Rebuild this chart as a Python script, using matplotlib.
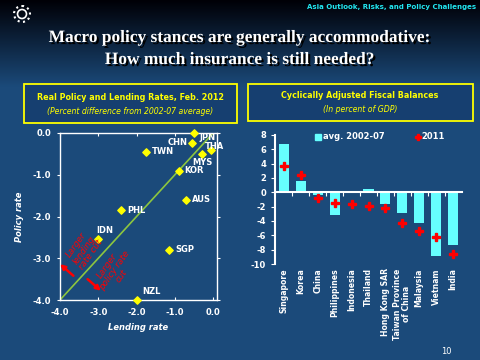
import numpy as np
import matplotlib.pyplot as plt
from matplotlib.patches import Rectangle, Circle
from matplotlib.lines import Line2D
import matplotlib.patheffects as pe

plt.rcParams["axes.unicode_minus"] = False

# scatter data: real policy vs lending rates (difference from 2002-07 avg)
countries = ["JPN", "CHN", "THA", "MYS", "TWN", "KOR", "AUS", "PHL", "IDN", "SGP", "NZL"]
lending = [-0.5, -0.55, -0.05, -0.3, -1.75, -0.9, -0.7, -2.4, -3.0, -1.15, -2.0]
policy = [0.0, -0.25, -0.4, -0.5, -0.45, -0.9, -1.6, -1.85, -2.55, -2.8, -4.0]
# label offsets in pixels (dx, dy, ha)
lab_off = {"JPN": (5, -4, "left"), "CHN": (-4, 1, "right"), "THA": (-6, 3, "left"),
           "MYS": (1, -9, "center"), "TWN": (6, 0, "left"), "KOR": (6, 0, "left"),
           "AUS": (6, 0, "left"), "PHL": (6, 0, "left"), "IDN": (-2, 9, "left"),
           "SGP": (6, 0, "left"), "NZL": (6, 8, "left")}

# bar data: cyclically adjusted fiscal balances
cats = ["Singapore", "Korea", "China", "Philippines", "Indonesia", "Thailand",
        "Hong Kong SAR", "Taiwan Province\nof China", "Malaysia", "Vietnam", "India"]
avg_0207 = [6.8, 1.6, -0.4, -3.2, 0.0, 0.4, -1.6, -2.9, -4.3, -8.9, -7.4]
y2011 = [3.7, 2.45, -0.8, -1.55, -1.65, -1.95, -2.2, -4.3, -5.45, -6.2, -8.6]

W, H = 481, 360
fig = plt.figure(figsize=(W / 100, H / 100), dpi=100)

# background gradient
bg = fig.add_axes([0, 0, 1, 1])
rows = np.linspace(0, 1, H)
t = np.clip(rows / 0.24, 0, 1)[:, None]
top = np.array([0, 0, 6]) / 255
bot = np.array([27, 74, 122]) / 255
img = (top + (bot - top) * t)[:, None, :].repeat(2, axis=1)
bg.imshow(img, aspect="auto", extent=[0, W, H, 0])
bg.set_xlim(0, W)
bg.set_ylim(H, 0)
bg.axis("off")

# logo
bg.add_patch(Circle((22, 14), 8, fill=False, ec="white", lw=1.5, ls=":"))
bg.add_patch(Circle((22, 14), 4.5, fill=False, ec="white", lw=1.2))

bg.text(476, 7, "Asia Outlook, Risks, and Policy Challenges", color="#22e6f0",
        fontsize=5, fontweight="bold", ha="right", va="center")
shadow = [pe.withSimplePatchShadow(offset=(1.5, -1.5), shadow_rgbFace="black", alpha=1)]
bg.text(240, 38, "Macro policy stances are generally accommodative:", color="white",
        fontsize=12.5, fontweight="bold", family="Liberation Serif", ha="center",
        va="center", path_effects=shadow)
bg.text(240, 60, "How much insurance is still needed?", color="white",
        fontsize=12.5, fontweight="bold", family="Liberation Serif", ha="center",
        va="center", path_effects=shadow)
bg.text(446, 351, "10", color="white", fontsize=6, ha="center", va="center")

# title boxes
bg.add_patch(Rectangle((24, 84), 213, 39, fc="#163f70", ec="#ffff00", lw=1.3))
bg.text(130.5, 97, "Real Policy and Lending Rates, Feb. 2012", color="#ffff00",
        fontsize=5.8, fontweight="bold", ha="center", va="center")
bg.text(130.5, 111, "(Percent difference from 2002-07 average)", color="#ffff00",
        fontsize=5.6, style="italic", ha="center", va="center")
bg.add_patch(Rectangle((248, 84), 225, 37, fc="#163f70", ec="#ffff00", lw=1.3))
bg.text(360, 96, "Cyclically Adjusted Fiscal Balances", color="#ffff00",
        fontsize=5.8, fontweight="bold", ha="center", va="center")
bg.text(360, 109, "(In percent of GDP)", color="#ffff00",
        fontsize=5.6, style="italic", ha="center", va="center")

# ---- scatter ----
ax = fig.add_axes([60 / W, 1 - 300 / H, 157 / W, 167 / H])
ax.patch.set_alpha(0)
ax.plot([-4, 0], [-4, 0], color="#8dc63f", lw=1.2)
ax.scatter(lending, policy, marker="D", s=14, color="#ffff00", zorder=3, clip_on=False)
for c, x, y in zip(countries, lending, policy):
    dx, dy, ha = lab_off[c]
    ax.annotate(c, (x, y), xytext=(dx, dy), textcoords="offset pixels", ha=ha,
                va="center", color="white", fontsize=6, fontweight="bold")
arrow = dict(arrowstyle="-|>", color="red", lw=1.8, mutation_scale=7, shrinkA=0, shrinkB=0)
ax.annotate("", xy=(-4.0, -3.14), xytext=(-3.65, -3.42), arrowprops=arrow,
            annotation_clip=False)
ax.annotate("", xy=(-2.93, -3.78), xytext=(-3.28, -3.5), arrowprops=arrow)
ax.text(-3.38, -2.8, "Larger\nlending\nrate cut", color="red", fontsize=6.3,
        style="italic", rotation=55, ha="center", va="center", linespacing=1.0)
ax.text(-2.58, -3.3, "Larger\npolicy rate\ncut", color="red", fontsize=6.3,
        style="italic", rotation=55, ha="center", va="center", linespacing=1.0)
ax.set_xlim(-4, 0.1)
ax.set_ylim(-4, 0)
ax.set_xticks([-4, -3, -2, -1, 0])
ax.set_yticks([-4, -3, -2, -1, 0])
ax.set_xticklabels(["-4.0", "-3.0", "-2.0", "-1.0", "0.0"])
ax.set_yticklabels(["-4.0", "-3.0", "-2.0", "-1.0", "0.0"])
for s in ax.spines.values():
    s.set_color("white")
    s.set_linewidth(1)
ax.tick_params(axis="x", colors="white", labelsize=6, length=2.5, direction="in",
               top=True, pad=6)
ax.tick_params(axis="y", colors="white", labelsize=6, length=2.5, direction="out",
               right=True, pad=4)
for lab in ax.get_xticklabels() + ax.get_yticklabels():
    lab.set_fontweight("bold")
ax.set_xlabel("Lending rate", color="white", fontsize=6, fontweight="bold",
              style="italic", labelpad=4)
ax.set_ylabel("Policy rate", color="white", fontsize=6, fontweight="bold",
              style="italic", labelpad=6)

# ---- bars ----
ax2 = fig.add_axes([275 / W, 1 - 264 / H, 187 / W, 129 / H])
ax2.patch.set_alpha(0)
xs = np.arange(len(cats))
ax2.bar(xs, avg_0207, width=0.6, color="#66ffff", zorder=2)
ax2.plot(xs, y2011, ls="none", marker="P", ms=6, color="red", mec="red", zorder=4)
ax2.set_xlim(-0.53, 10.53)
ax2.set_ylim(-10, 8)
ax2.set_yticks(np.arange(-10, 9, 2))
ax2.spines["top"].set_visible(False)
ax2.spines["right"].set_visible(False)
ax2.spines["bottom"].set_position(("data", 0))
ax2.spines["bottom"].set_zorder(3)
for s in ("left", "bottom"):
    ax2.spines[s].set_color("white")
    ax2.spines[s].set_linewidth(1.5)
ax2.set_xticks(np.arange(0.5, 10.5, 1))
ax2.set_xticklabels([])
ax2.tick_params(axis="x", colors="white", length=3, width=0.8, direction="out")
ax2.tick_params(axis="y", colors="white", labelsize=6, length=3, direction="out")
for lab in ax2.get_yticklabels():
    lab.set_fontweight("bold")
for x, c in zip(xs, cats):
    ax2.text(x, -10.6, c, rotation=90, ha="center", va="top", color="white",
             fontsize=5.6, fontweight="bold", multialignment="center", linespacing=1.0)
handles = [Line2D([], [], ls="none", marker="s", ms=5, color="#66ffff"),
           Line2D([], [], ls="none", marker="P", ms=5, color="red")]
ax2.legend(handles, ["avg. 2002-07", "2011"], ncol=2, frameon=False, loc="center",
           bbox_to_anchor=(0.56, 0.985), labelcolor="white", handletextpad=0.0,
           columnspacing=3.5, prop=dict(size=6, weight="bold"), handlelength=1)

fig.savefig("out.png", dpi=100)
